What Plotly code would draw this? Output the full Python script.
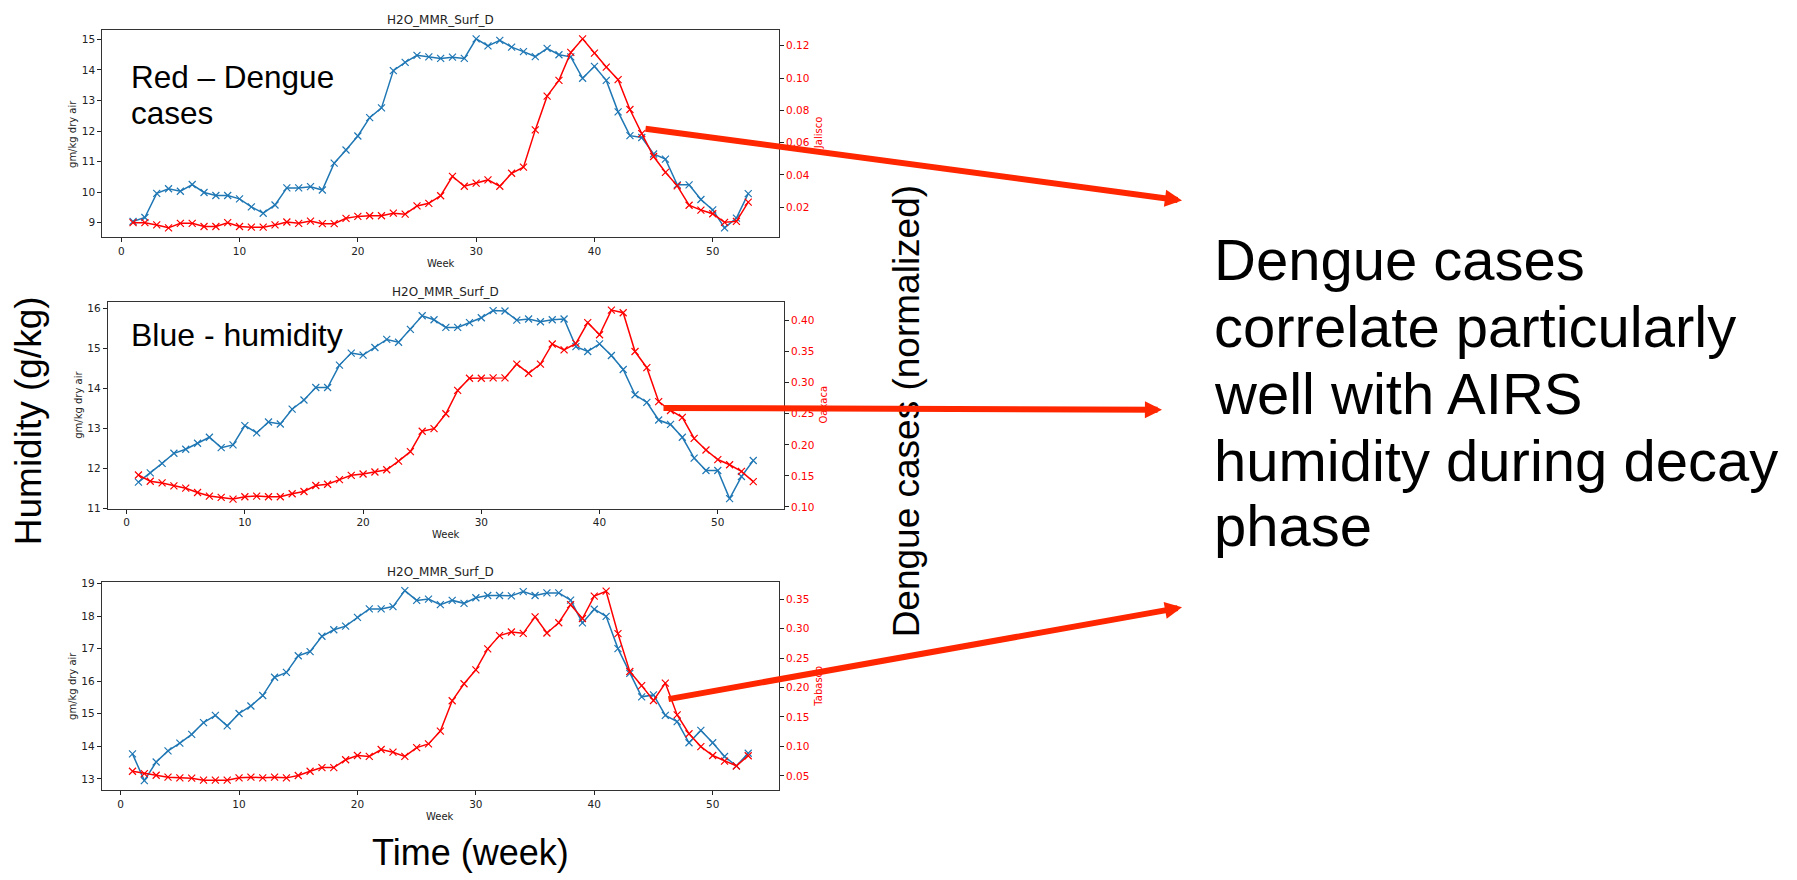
import plotly.graph_objects as go

W, H = 1797, 880

weeks = list(range(1, 54))

# Panel 1 (Jalisco)
jal_hum = [9.04, 9.17, 9.96, 10.11, 10.03, 10.25, 9.99, 9.89, 9.89, 9.78,
           9.52, 9.31, 9.58, 10.14, 10.14, 10.18, 10.07, 10.95, 11.38, 11.84,
           12.44, 12.76, 13.98, 14.25, 14.48, 14.43, 14.38, 14.42, 14.38, 15.02,
           14.79, 14.97, 14.75, 14.60, 14.44, 14.71, 14.50, 14.43, 13.73, 14.12,
           13.66, 12.63, 11.85, 11.79, 11.25, 11.08, 10.24, 10.24, 9.76, 9.42,
           8.83, 9.15, 9.95]
jal_dengue = [0.0104, 0.0104, 0.0090, 0.0072, 0.0100, 0.0100, 0.0080, 0.0080, 0.0104, 0.0080,
              0.0076, 0.0076, 0.0090, 0.0108, 0.0100, 0.0114, 0.0098, 0.0098, 0.0131, 0.0143,
              0.0147, 0.0147, 0.0163, 0.0157, 0.0208, 0.0224, 0.0271, 0.0391, 0.0330, 0.0349,
              0.0369, 0.0330, 0.0410, 0.0448, 0.0679, 0.0888, 0.0986, 0.1159, 0.1243, 0.1155,
              0.1068, 0.0990, 0.0805, 0.0656, 0.0514, 0.0416, 0.0332, 0.0212, 0.0182, 0.0159,
              0.0106, 0.0112, 0.0231]

# Panel 2 (Oaxaca)
oax_hum = [11.66, 11.89, 12.13, 12.38, 12.48, 12.63, 12.78, 12.52, 12.59, 13.07,
           12.89, 13.16, 13.11, 13.48, 13.71, 14.02, 14.02, 14.58, 14.88, 14.83,
           15.02, 15.22, 15.15, 15.47, 15.81, 15.71, 15.52, 15.52, 15.64, 15.76,
           15.94, 15.93, 15.70, 15.73, 15.66, 15.71, 15.73, 15.04, 14.92, 15.11,
           14.82, 14.47, 13.84, 13.65, 13.21, 13.10, 12.78, 12.26, 11.95, 11.95,
           11.25, 11.80, 12.20]
oax_dengue = [0.1514, 0.1413, 0.1387, 0.1339, 0.1302, 0.1233, 0.1175, 0.1154, 0.1127, 0.1164,
              0.1175, 0.1164, 0.1164, 0.1212, 0.1249, 0.1345, 0.1366, 0.1440, 0.1509, 0.1530,
              0.1562, 0.1599, 0.1737, 0.1890, 0.2219, 0.2261, 0.2500, 0.2876, 0.3072, 0.3072,
              0.3078, 0.3078, 0.3300, 0.3152, 0.3300, 0.3624, 0.3528, 0.3634, 0.3968, 0.3772,
              0.4170, 0.4127, 0.3502, 0.3242, 0.2696, 0.2553, 0.2442, 0.2103, 0.1917, 0.1763,
              0.1679, 0.1573, 0.1408]

# Panel 3 (Tabasco)
tab_hum = [13.77, 12.95, 13.52, 13.86, 14.10, 14.37, 14.73, 14.95, 14.63, 15.01,
           15.24, 15.56, 16.12, 16.27, 16.78, 16.91, 17.38, 17.58, 17.69, 17.96,
           18.22, 18.22, 18.29, 18.78, 18.48, 18.52, 18.35, 18.48, 18.39, 18.56,
           18.63, 18.63, 18.62, 18.75, 18.63, 18.71, 18.71, 18.49, 17.79, 18.21,
           17.99, 17.00, 16.24, 15.52, 15.58, 14.95, 14.76, 14.11, 14.49, 14.11,
           13.69, 13.40, 13.79]
tab_dengue = [0.0578, 0.0539, 0.0511, 0.0478, 0.0466, 0.0461, 0.0427, 0.0427, 0.0427, 0.0466,
              0.0478, 0.0466, 0.0478, 0.0466, 0.0506, 0.0578, 0.0640, 0.0640, 0.0774, 0.0846,
              0.0830, 0.0947, 0.0902, 0.0830, 0.0980, 0.1042, 0.1260, 0.1774, 0.2064, 0.2299,
              0.2656, 0.2880, 0.2941, 0.2919, 0.3198, 0.2925, 0.3098, 0.3405, 0.3170, 0.3550,
              0.3634, 0.2913, 0.2271, 0.2031, 0.1779, 0.2075, 0.1534, 0.1215, 0.0997, 0.0846,
              0.0751, 0.0668, 0.0841]

states = ["Jalisco", "Oaxaca", "Tabasco"]
hum_series = [jal_hum, oax_hum, tab_hum]
dengue_series = [jal_dengue, oax_dengue, tab_dengue]

x_ticks = [0, 10, 20, 30, 40, 50]
left_ticks = [[9, 10, 11, 12, 13, 14, 15], [11, 12, 13, 14, 15, 16], [13, 14, 15, 16, 17, 18, 19]]
right_ticks = [[0.02, 0.04, 0.06, 0.08, 0.10, 0.12],
               [0.10, 0.15, 0.20, 0.25, 0.30, 0.35, 0.40],
               [0.05, 0.10, 0.15, 0.20, 0.25, 0.30, 0.35]]
left_ranges = [[8.52, 15.31], [11.0, 16.165], [12.65, 19.045]]
right_ranges = [[0.0013, 0.1298], [0.0973, 0.4307], [0.0254, 0.3790]]
x_range = [-1.6, 55.6]

# panel boxes in pixels (left, right, top, bottom)
boxes = [(102.3, 779.0, 25.3, 235.3), (107.7, 784.0, 300.3, 510.0), (101.7, 779.0, 584.3, 795.3)]

BLUE = "#1f77b4"
RED = "#ff0000"
ARROW = "#ff2600"
SMALL_FONT = "DejaVu Sans"
BIG_FONT = "Liberation Sans, Arial, sans-serif"


def px(x):
    return x / W


def py(y):
    return 1 - y / H


fig = go.Figure()
layout = dict(width=W, height=H, margin=dict(l=0, r=0, t=0, b=0),
              paper_bgcolor="white", plot_bgcolor="white", showlegend=False)
annotations = []

for i in range(3):
    xa = "x" if i == 0 else f"x{i + 1}"
    ya_l = "y" if i == 0 else f"y{2 * i + 1}"
    ya_r = f"y{2 * i + 2}"
    fig.add_trace(go.Scatter(x=weeks, y=hum_series[i], xaxis=xa, yaxis=ya_l,
                             mode="lines+markers", line=dict(color=BLUE, width=1.5),
                             marker=dict(symbol="x-thin", size=7, line=dict(color=BLUE, width=1.2))))
    fig.add_trace(go.Scatter(x=weeks, y=dengue_series[i], xaxis=xa, yaxis=ya_r,
                             mode="lines+markers", line=dict(color=RED, width=1.5),
                             marker=dict(symbol="x-thin", size=7, line=dict(color=RED, width=1.2))))
    l, r, t, b = boxes[i]
    xkey = "xaxis" if i == 0 else f"xaxis{i + 1}"
    ylkey = "yaxis" if i == 0 else f"yaxis{2 * i + 1}"
    yrkey = f"yaxis{2 * i + 2}"
    layout[xkey] = dict(domain=[px(l), px(r)], anchor=ya_l, range=x_range,
                        tickvals=x_ticks, ticks="outside", ticklen=4, tickcolor="#222",
                        showline=True, mirror=True, linecolor="#333", linewidth=1,
                        showgrid=False, zeroline=False,
                        tickfont=dict(family=SMALL_FONT, size=10.5, color="#222"))
    layout[ylkey] = dict(domain=[py(b), py(t)], anchor=xa, range=left_ranges[i],
                         tickvals=left_ticks[i], ticks="outside", ticklen=4, tickcolor="#222",
                         showline=True, mirror=True, linecolor="#333", linewidth=1,
                         showgrid=False, zeroline=False,
                         tickfont=dict(family=SMALL_FONT, size=10.5, color="#222"))
    layout[yrkey] = dict(overlaying=ya_l, anchor=xa, side="right", range=right_ranges[i],
                         tickvals=right_ticks[i], tickformat=".2f", ticks="outside", ticklen=4,
                         tickcolor="#222", showline=False, showgrid=False, zeroline=False,
                         tickfont=dict(family=SMALL_FONT, size=10.5, color=RED))
    cx = (l + r) / 2
    cy = (t + b) / 2
    annotations.append(dict(text="H2O_MMR_Surf_D", x=px(cx), y=py(t - 10), xref="paper", yref="paper",
                            showarrow=False, xanchor="center", yanchor="middle",
                            font=dict(family=SMALL_FONT, size=12, color="#222")))
    annotations.append(dict(text="Week", x=px(cx), y=py(b + 26), xref="paper", yref="paper",
                            showarrow=False, xanchor="center", yanchor="middle",
                            font=dict(family=SMALL_FONT, size=10, color="#222")))
    annotations.append(dict(text="gm/kg dry air", x=px(l - 30), y=py(cy), xref="paper", yref="paper",
                            showarrow=False, xanchor="center", yanchor="middle", textangle=-90,
                            font=dict(family=SMALL_FONT, size=10, color="#222")))
    annotations.append(dict(text=states[i], x=px(r + 39.5), y=py(cy), xref="paper", yref="paper",
                            showarrow=False, xanchor="center", yanchor="middle", textangle=-90,
                            font=dict(family=SMALL_FONT, size=10, color=RED)))


def big_text(text, x, y_center, size, angle=0, anchor="left"):
    annotations.append(dict(text=text, x=px(x), y=py(y_center), xref="paper", yref="paper",
                            showarrow=False, xanchor=anchor, yanchor="middle", textangle=angle,
                            font=dict(family=BIG_FONT, size=size, color="black")))


# overlay labels
big_text("Red \u2013 Dengue", 129, 83.3 - 0.33 * 31.5, 31.5)
big_text("cases", 129, 119.3 - 0.33 * 31.5, 31.5)
big_text("Blue - humidity", 129, 345 - 0.33 * 32, 32)
big_text("Humidity (g/kg)", 28, 421.5, 37, angle=-90, anchor="center")
big_text("Dengue cases (normalized)", 906.5, 412, 37, angle=-90, anchor="center")
big_text("Time (week)", 470, 858, 36, anchor="center")

right_lines = ["Dengue cases", "correlate particularly", "well with AIRS",
               "humidity during decay", "phase"]
baselines = [277.3, 345.0, 412.3, 480.0, 546.7]
for line, bl in zip(right_lines, baselines):
    big_text(line, 1212, bl - 0.33 * 58, 58)

# arrows (tail -> tip, in pixels)
arrows = [((644, 126), (1182, 198)), ((662, 408), (1162, 410)), ((667, 702), (1182, 610))]
for (tx, ty), (hx, hy) in arrows:
    annotations.append(dict(text="", x=px(hx), y=py(hy), xref="paper", yref="paper",
                            showarrow=True, ax=tx - hx, ay=ty - hy, axref="pixel", ayref="pixel",
                            arrowhead=2, arrowsize=0.57, arrowwidth=6, arrowcolor=ARROW,
                            standoff=0, startstandoff=0))

layout["annotations"] = annotations
fig.update_layout(**layout)
fig.write_html("out.html")
